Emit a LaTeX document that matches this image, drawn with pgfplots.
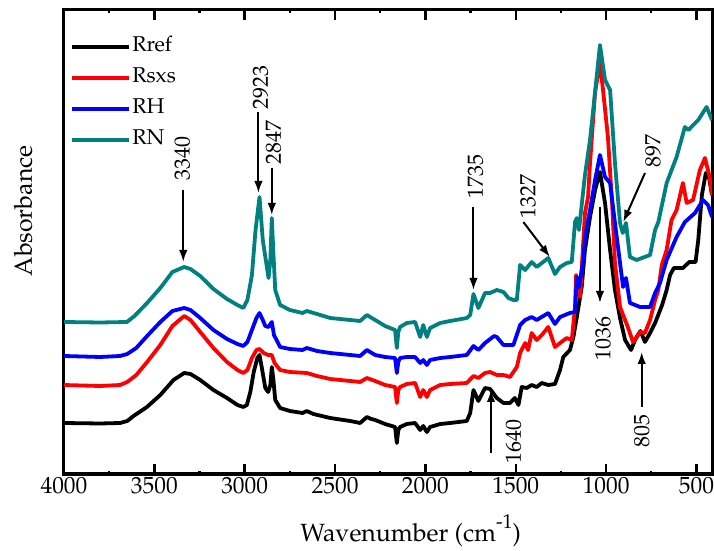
\documentclass[border=0pt]{standalone}
\usepackage[T1]{fontenc}
\usepackage{mathpazo}
\usepackage{pgfplots}
\pgfplotsset{compat=1.18}
\usetikzlibrary{arrows.meta}
\definecolor{rnteal}{HTML}{008080}
\tikzset{curve/.style={line width=3.8bp, line join=round},
  pk/.style={line width=2bp, -{Latex[length=12bp,width=8.5bp]}},
  pl/.style={rotate=90, inner sep=0pt, font=\fontsize{22}{24}\selectfont}}

\pgfplotstableread{
w y
4000 -423
3800 -423.5
3690 -423
3650 -421
3615 -416
3541 -407
3467 -395
3394 -380
3335 -373
3300 -374
3246 -380
3173 -390
3098 -398
3040 -405
3008 -407
2988 -405
2969 -392
2950 -372
2930 -358
2918 -355
2905 -368
2886 -388
2870 -392
2858 -385
2850 -367
2842 -378
2831 -400
2804 -408
2750 -411
2680 -413
2656 -411
2620 -414
2527 -418
2416 -421
2361 -423
2324 -417
2300 -419
2278 -420
2223 -424
2168 -427
2158 -443
2150 -430
2140 -427
2103 -424
2057 -423
2029 -430
2012 -426
1992 -432
1974 -427
1918 -424
1863 -423
1771 -421
1752 -413
1734 -390
1707 -401
1670 -388
1642 -389
1605 -398
1568 -403
1532 -403
1505 -398
1485 -405
1467 -387
1439 -388
1412 -385
1384 -387
1356 -383
1320 -385
1283 -384
1255 -370
1237 -357
1200 -350
1181 -337
1162 -317
1135 -287
1117 -250
1089 -217
1061 -190
1034 -172
1006 -203
978 -250
951 -290
923 -318
895 -340
862 -350
840 -340
810 -331
785 -342
757 -333
729 -323
690 -305
665 -290
646 -275
625 -268
575 -268
540 -262
505 -262
490 -240
470 -195
448 -173
430 -178
414 -195
}\rref

\pgfplotstableread{
w y
4000 -385
3800 -386
3690 -385
3650 -382
3600 -375
3540 -362
3467 -345
3400 -326
3335 -316
3300 -320
3246 -332
3173 -348
3098 -362
3040 -370
3008 -373
2985 -370
2960 -358
2935 -350
2918 -349
2895 -353
2870 -355
2850 -355
2835 -363
2804 -370
2750 -372
2656 -373
2600 -376
2527 -379
2416 -381
2361 -382
2324 -378
2278 -381
2223 -385
2168 -387
2158 -403
2150 -390
2140 -387
2103 -384
2057 -383
2029 -397
2012 -390
1992 -397
1974 -390
1918 -385
1863 -384
1771 -383
1734 -376
1707 -378
1670 -373
1642 -372
1605 -375
1568 -375
1532 -377
1494 -367
1476 -353
1448 -343
1432 -350
1412 -333
1384 -340
1356 -335
1320 -327
1283 -347
1255 -343
1218 -338
1190 -340
1172 -307
1166 -275
1154 -290
1144 -297
1117 -213
1100 -197
1089 -163
1061 -92
1034 -63
1017 -90
990 -137
967 -203
951 -263
923 -307
906 -315
884 -325
851 -342
812 -332
785 -333
757 -320
729 -300
711 -290
692 -265
665 -250
638 -220
610 -210
575 -183
554 -203
519 -200
481 -170
453 -158
427 -177
414 -195
}\rsxs

\pgfplotstableread{
w y
4000 -356
3800 -357
3690 -356
3650 -354
3600 -348
3540 -336
3467 -322
3400 -311
3335 -308
3300 -310
3246 -318
3173 -330
3098 -339
3040 -344
3008 -346
2985 -342
2960 -330
2935 -318
2918 -313
2900 -320
2886 -326
2868 -327
2850 -322
2838 -335
2804 -347
2750 -349
2680 -350
2656 -348
2600 -351
2527 -353
2416 -355
2361 -356
2324 -350
2278 -355
2223 -357
2168 -358
2158 -373
2150 -362
2140 -358
2103 -357
2057 -357
2029 -363
2012 -360
1992 -365
1974 -360
1918 -358
1863 -357
1771 -355
1734 -346
1707 -350
1670 -343
1620 -336
1605 -337
1568 -345
1513 -345
1476 -325
1448 -320
1412 -317
1384 -320
1320 -313
1283 -324
1255 -317
1200 -313
1172 -312
1162 -277
1150 -287
1126 -260
1117 -237
1089 -210
1061 -180
1034 -155
1006 -177
978 -183
951 -223
923 -263
906 -287
890 -278
868 -303
812 -307
757 -307
729 -293
702 -283
665 -260
610 -237
564 -222
508 -213
464 -200
436 -205
414 -217
}\rh

\pgfplotstableread{
w y
4000 -322
3800 -322.5
3652 -322
3610 -316
3540 -303
3467 -288
3400 -272
3335 -267
3300 -269
3246 -276
3173 -289
3098 -299
3040 -305
3008 -308
2985 -300
2960 -275
2940 -230
2918 -197
2900 -240
2868 -278
2858 -260
2850 -218
2842 -250
2831 -290
2804 -305
2750 -310
2680 -313
2656 -311
2600 -314
2527 -318
2416 -320
2361 -321
2324 -315
2278 -320
2223 -326
2168 -330
2158 -348
2150 -332
2140 -327
2103 -323
2057 -322
2029 -337
2012 -325
1992 -337
1974 -328
1918 -323
1863 -321
1771 -318
1752 -315
1734 -294
1707 -308
1670 -293
1642 -293
1605 -290
1568 -292
1541 -298
1513 -300
1494 -300
1476 -265
1448 -270
1412 -262
1384 -267
1320 -258
1283 -274
1255 -267
1218 -263
1190 -262
1172 -222
1162 -218
1150 -230
1117 -175
1089 -140
1061 -92
1034 -45
1006 -80
978 -90
951 -163
923 -223
908 -233
890 -223
868 -257
831 -260
757 -255
729 -230
711 -222
665 -183
610 -157
564 -127
545 -130
490 -120
444 -107
414 -120
}\rn

\begin{document}
\begin{tikzpicture}
\useasboundingbox (0,0) rectangle (714bp,551bp);
\begin{axis}[
    at={(64bp,77bp)}, anchor=south west,
    width=648bp, height=464bp, scale only axis,
    x dir=reverse,
    xmin=414, xmax=4000,
    ymin=-474, ymax=-10,
    xtick={4000,3500,3000,2500,2000,1500,1000,500},
    xticklabels={4000,3500,3000,2500,2000,1500,1000,500},
    minor xtick={3750,3250,2750,2250,1750,1250,750},
    ytick=\empty,
    tick align=inside,
    major tick length=10bp,
    every tick/.style={black, line width=2.4bp},
    axis line style={line width=3bp},
    xticklabel style={font=\fontsize{23.5}{26}\selectfont},
    xlabel={Wavenumber (cm\raisebox{0.5em}{\fontsize{20}{20}\selectfont -1})},
    xlabel style={font=\fontsize{25}{28}\selectfont, at={(axis description cs:0.535,-0.122)}, anchor=center},
    ylabel={Absorbance},
    ylabel style={font=\fontsize{25}{28}\selectfont, at={(axis description cs:-0.063,0.567)}, anchor=center},
    legend style={at={(axis description cs:0.009,0.944)}, anchor=north west,
        draw=none, fill=none, inner sep=0pt, row sep=10bp,
        font=\fontsize{21.5}{24}\selectfont,
        nodes={inner sep=1.5bp, text height=14bp, text depth=4bp}},
    legend cell align=left,
    legend image code/.code={\draw[#1] (0bp,0bp) -- (57bp,0bp);},
]
\addplot[black, curve] table[x=w,y=y] {\rref};
\addlegendentry{Rref}
\addplot[red, curve] table[x=w,y=y] {\rsxs};
\addlegendentry{Rsxs}
\addplot[blue, curve] table[x=w,y=y] {\rh};
\addlegendentry{RH}
\addplot[rnteal, curve] table[x=w,y=y] {\rn};
\addlegendentry{RN}

% peak labels
\draw[pk] (axis cs:3340,-190) -- (axis cs:3340,-262);
\draw[pk] (axis cs:2924,-112) -- (axis cs:2924,-193);
\draw[pk] (axis cs:2850,-168) -- (axis cs:2850,-215);
\draw[pk] (axis cs:1734,-207) -- (axis cs:1734,-290);
\draw[pk] (axis cs:1458,-222) -- (axis cs:1311,-257);
\draw[pk] (axis cs:785,-173) -- (axis cs:905,-222);
\draw[pk] (axis cs:1034,-207) -- (axis cs:1034,-303);
\draw[pk] (axis cs:803,-407) -- (axis cs:803,-352);
\draw[pk] (axis cs:1637,-453) -- (axis cs:1637,-390);
\node[pl, anchor=west] at (axis cs:3346,-181) {3340};
\node[pl, anchor=west] at (axis cs:2913,-110) {2923};
\node[pl, anchor=west] at (axis cs:2840,-165) {2847};
\node[pl, anchor=west] at (axis cs:1723,-199) {1735};
\node[pl, anchor=west] at (axis cs:1432,-219) {1327};
\node[pl, anchor=west] at (axis cs:740,-168) {897};
\node[pl, anchor=east] at (axis cs:1017,-316) {1036};
\node[pl, anchor=east] at (axis cs:803,-414) {805};
\node[pl, anchor=east] at (axis cs:1513,-419) {1640};
\end{axis}
\end{tikzpicture}
\end{document}
